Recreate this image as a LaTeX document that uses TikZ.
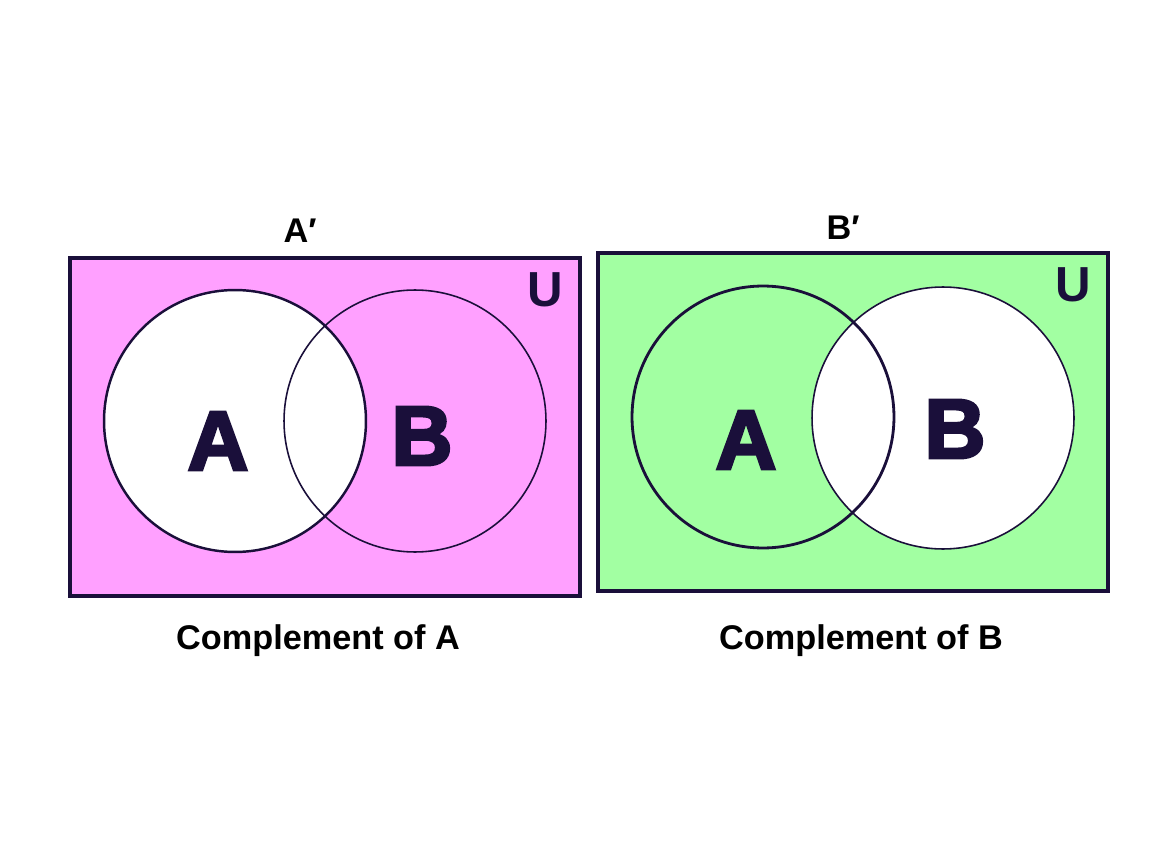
\documentclass[tikz,border=0pt]{standalone}
\usepackage{fontspec}
\setsansfont{Liberation Sans}
\newfontfamily\heavyfont[BoldFeatures={FakeBold=3.5}]{Liberation Sans}
\usepackage{xcolor}
\usepackage{tikz}
\usetikzlibrary{positioning}

\definecolor{ink}{HTML}{1A0F3A}
\definecolor{pinkfill}{HTML}{FFA0FF}
\definecolor{greenfill}{HTML}{A2FFA2}

\begin{document}
\begin{tikzpicture}[x=0.02cm,y=-0.02cm,
  every node/.style={font=\sffamily\bfseries,inner sep=0pt},
  panel/.style={rectangle,draw=ink,line width=2.3pt,minimum width=10.2cm,minimum height=6.78cm},
  setcirc/.style={circle,draw=ink,line width=1.1pt,minimum size=5.24cm},
  setname/.style={text=ink,font=\heavyfont\bfseries\fontsize{48}{48}\selectfont},
  unilabel/.style={text=ink,font=\sffamily\bfseries\fontsize{28}{28}\selectfont},
  caption/.style={font=\sffamily\bfseries\fontsize{19.5}{20}\selectfont}]
\useasboundingbox (0,0) rectangle (1170,841);
% complement of A
\node[panel,fill=pinkfill] (boxA) at (325,427) {};
\node[setcirc,fill=white,line width=1.4pt] (cA1) at (235,421) {};
\node[setcirc,line width=0.9pt] (cB1) at (415,421) {};
\node[setname] (lA1) at (218,441) {A};
\node[setname] (lB1) at (422,436) {B};
\node[unilabel] (u1) at (545,290) {U};
\node[caption] (t1) at (300,231) {A′};
\node[caption] (c1) at (318,641) {Complement of A};
% complement of B
\node[panel,fill=greenfill] (boxB) at (853,422) {};
\node[setcirc,fill=white,line width=0.9pt] (cB2) at (943,418) {};
\node[setcirc,line width=1.6pt] (cA2) at (763,417) {};
\node[setname] (lA2) at (746,440) {A};
\node[setname] (lB2) at (955,429) {B};
\node[unilabel] (u2) at (1073,285) {U};
\node[caption] (t2) at (843,228) {B′};
\node[caption] (c2) at (861,641) {Complement of B};
\end{tikzpicture}
\end{document}
